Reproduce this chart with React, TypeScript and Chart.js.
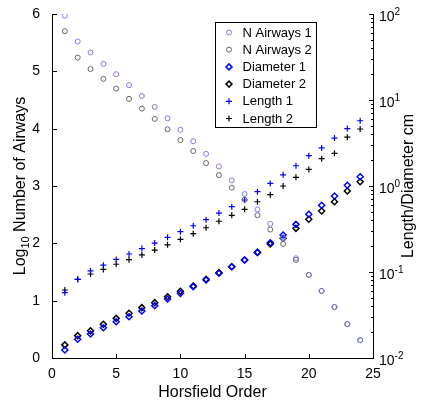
import React, { useEffect, useRef } from 'react';
import { Chart, registerables } from 'chart.js';

Chart.register(...registerables);

// ---- data ----
const orders = [1, 2, 3, 4, 5, 6, 7, 8, 9, 10, 11, 12, 13, 14, 15, 16, 17, 18, 19, 20, 21, 22, 23, 24];
const nAirways1 = [5.97, 5.52, 5.33, 5.13, 4.95, 4.76, 4.57, 4.38, 4.18, 3.98, 3.78, 3.56, 3.34, 3.10, 2.86, 2.59, 2.34, 2.09, 1.74, 1.45, 1.17, 0.89, 0.59, 0.31];
const nAirways2 = [5.70, 5.24, 5.04, 4.87, 4.70, 4.52, 4.35, 4.17, 3.99, 3.80, 3.61, 3.40, 3.19, 2.97, 2.76, 2.49, 2.24, 1.99, 1.71, 1.45, 1.17, 0.89, 0.59, 0.31];
const diameter1 = [0.0124, 0.0165, 0.0190, 0.0225, 0.0264, 0.0302, 0.0352, 0.0406, 0.0485, 0.0565, 0.0675, 0.0807, 0.0966, 0.115, 0.138, 0.169, 0.219, 0.269, 0.358, 0.469, 0.596, 0.766, 1.02, 1.28];
const diameter2 = [0.0142, 0.0182, 0.0207, 0.0247, 0.0289, 0.0331, 0.0385, 0.0440, 0.0516, 0.0597, 0.0687, 0.0822, 0.0982, 0.115, 0.138, 0.169, 0.212, 0.247, 0.322, 0.410, 0.512, 0.656, 0.875, 1.12];
const length1 = [0.0575, 0.0822, 0.103, 0.120, 0.140, 0.162, 0.187, 0.217, 0.253, 0.294, 0.345, 0.406, 0.485, 0.575, 0.687, 0.859, 1.07, 1.35, 1.72, 2.25, 2.77, 3.61, 4.65, 5.74];
const length2 = [0.0618, 0.0822, 0.0948, 0.107, 0.123, 0.139, 0.158, 0.180, 0.207, 0.240, 0.279, 0.327, 0.389, 0.456, 0.536, 0.656, 0.792, 1.00, 1.26, 1.56, 2.08, 2.40, 3.70, 4.60];

const seriesLabels = ['N Airways 1', 'N Airways 2', 'Diameter 1', 'Diameter 2', 'Length 1', 'Length 2'];
const xTicks = [0, 5, 10, 15, 20, 25];
const leftTicks = [0, 1, 2, 3, 4, 5, 6];
const rightExponents = [-2, -1, 0, 1, 2];
const xTitle = 'Horsfield Order';
const leftTitle = ['Log', '10', ' Number of Airways'];
const rightTitle = 'Length/Diameter cm';

const FONT = '"Liberation Sans", Arial, Helvetica, sans-serif';

const styles = [
  { shape: 'circle', color: '#7b7bf2', width: 1 },
  { shape: 'circle', color: '#666666', width: 1 },
  { shape: 'diamond', color: '#0000ff', width: 1.5 },
  { shape: 'diamond', color: '#000000', width: 1.5 },
  { shape: 'plus', color: '#0000ff', width: 1.2 },
  { shape: 'plus', color: '#000000', width: 1.2 },
];

function drawMarker(ctx: CanvasRenderingContext2D, shape: string, x: number, y: number, color: string, width: number) {
  ctx.save();
  ctx.strokeStyle = color;
  ctx.lineWidth = width;
  ctx.beginPath();
  if (shape === 'circle') {
    ctx.arc(x, y, 2.5, 0, Math.PI * 2);
  } else if (shape === 'diamond') {
    ctx.moveTo(x, y - 3);
    ctx.lineTo(x + 3, y);
    ctx.lineTo(x, y + 3);
    ctx.lineTo(x - 3, y);
    ctx.closePath();
  } else {
    ctx.moveTo(x - 3, y);
    ctx.lineTo(x + 3, y);
    ctx.moveTo(x, y - 3);
    ctx.lineTo(x, y + 3);
  }
  ctx.stroke();
  ctx.restore();
}

const decor = {
  id: 'decor',
  afterDraw(chart: any) {
    const ctx: CanvasRenderingContext2D = chart.ctx;
    const { left, right, top, bottom } = chart.chartArea;
    const xs = chart.scales.x;
    const ys = chart.scales.y;
    const y1 = chart.scales.y1;
    ctx.save();
    ctx.strokeStyle = '#000';
    ctx.lineWidth = 1;
    // axis lines
    ctx.beginPath();
    ctx.moveTo(left + 0.5, top);
    ctx.lineTo(left + 0.5, bottom + 0.5);
    ctx.lineTo(right + 0.5, bottom + 0.5);
    ctx.lineTo(right + 0.5, top);
    ctx.stroke();
    // ticks
    ctx.beginPath();
    xTicks.forEach((v) => {
      const px = Math.round(xs.getPixelForValue(v)) + 0.5;
      ctx.moveTo(px, bottom);
      ctx.lineTo(px, bottom - 4);
    });
    leftTicks.forEach((v) => {
      const py = Math.round(ys.getPixelForValue(v)) + 0.5;
      ctx.moveTo(left, py);
      ctx.lineTo(left + 5, py);
    });
    rightExponents.forEach((e, i) => {
      const base = Math.pow(10, e);
      const py = Math.round(y1.getPixelForValue(base)) + 0.5;
      ctx.moveTo(right + 1, py);
      ctx.lineTo(right - 4, py);
      if (i < rightExponents.length - 1) {
        for (let m = 2; m <= 9; m++) {
          const pm = Math.round(y1.getPixelForValue(base * m)) + 0.5;
          ctx.moveTo(right + 1, pm);
          ctx.lineTo(right - 2, pm);
        }
      }
    });
    ctx.stroke();

    // right tick labels 10^e
    ctx.fillStyle = '#000';
    ctx.textAlign = 'left';
    ctx.textBaseline = 'alphabetic';
    rightExponents.forEach((e) => {
      const py = y1.getPixelForValue(Math.pow(10, e));
      ctx.font = `14px ${FONT}`;
      ctx.fillText('10', right + 6, py + 7);
      const w = ctx.measureText('10').width;
      ctx.font = `10px ${FONT}`;
      ctx.fillText(e < 0 ? '-' + Math.abs(e) : String(e), right + 6 + w, py + 1);
    });

    // left title with subscript
    ctx.save();
    ctx.translate(21, (top + bottom) / 2);
    ctx.rotate(-Math.PI / 2);
    ctx.textBaseline = 'middle';
    ctx.font = `16px ${FONT}`;
    const w0 = ctx.measureText(leftTitle[0]).width;
    const w2 = ctx.measureText(leftTitle[2]).width;
    ctx.font = `11px ${FONT}`;
    const w1 = ctx.measureText(leftTitle[1]).width;
    let sx = -(w0 + w1 + w2) / 2;
    ctx.font = `16px ${FONT}`;
    ctx.fillText(leftTitle[0], sx, 0);
    sx += w0;
    ctx.font = `11px ${FONT}`;
    ctx.fillText(leftTitle[1], sx, 5);
    sx += w1;
    ctx.font = `16px ${FONT}`;
    ctx.fillText(leftTitle[2], sx, 0);
    ctx.restore();

    // right title (reads bottom to top)
    ctx.save();
    ctx.translate(right + 36, (top + bottom) / 2);
    ctx.rotate(-Math.PI / 2);
    ctx.textBaseline = 'middle';
    ctx.textAlign = 'center';
    ctx.font = `16px ${FONT}`;
    ctx.fillText(rightTitle, 0, 0);
    ctx.restore();

    // legend
    const bx = left + 163.5;
    const by = top + 8.5;
    const bw = 101;
    const bh = 105;
    ctx.fillStyle = '#fff';
    ctx.fillRect(bx, by, bw, bh);
    ctx.strokeStyle = '#000';
    ctx.lineWidth = 1;
    ctx.strokeRect(bx, by, bw, bh);
    ctx.font = `13px ${FONT}`;
    ctx.fillStyle = '#000';
    ctx.textBaseline = 'middle';
    ctx.textAlign = 'left';
    seriesLabels.forEach((lab, i) => {
      const ry = by + 10 + i * 17.2;
      const st = styles[i];
      drawMarker(ctx, st.shape, bx + 13.5, ry, st.color, st.width);
      ctx.fillStyle = '#000';
      ctx.fillText(lab, bx + 27, ry + 0.5);
    });
    ctx.restore();
  },
};

export default function App() {
  const ref = useRef<HTMLCanvasElement | null>(null);
  useEffect(() => {
    if (!ref.current) return;
    const mk = (vals: number[]) => orders.map((x, i) => ({ x, y: vals[i] }));
    const pointStyleOf = (s: string) => (s === 'circle' ? 'circle' : s === 'diamond' ? 'rectRot' : 'cross');
    const seriesValues = [nAirways1, nAirways2, diameter1, diameter2, length1, length2];
    const datasets = seriesValues.map((vals, i) => ({
      label: seriesLabels[i],
      data: mk(vals),
      yAxisID: i < 2 ? 'y' : 'y1',
      showLine: false,
      pointStyle: pointStyleOf(styles[i].shape),
      pointRadius: styles[i].shape === 'circle' ? 2.5 : 3,
      pointBorderWidth: styles[i].width,
      pointBorderColor: styles[i].color,
      pointBackgroundColor: 'rgba(0,0,0,0)',
      borderColor: styles[i].color,
      backgroundColor: 'rgba(0,0,0,0)',
    }));
    const chart = new Chart(ref.current, {
      type: 'scatter',
      data: { datasets },
      plugins: [decor],
      options: {
        animation: false,
        responsive: false,
        devicePixelRatio: 1,
        layout: { padding: { top: 14, left: 0, right: 0, bottom: 0 } },
        plugins: { legend: { display: false }, tooltip: { enabled: false } },
        scales: {
          x: {
            type: 'linear',
            position: 'bottom',
            min: 0,
            max: 25,
            afterBuildTicks: (s: any) => { s.ticks = xTicks.map((v) => ({ value: v })); },
            ticks: { color: '#000', font: { family: FONT, size: 14 }, padding: 0, maxRotation: 0 },
            grid: { display: false },
            border: { display: false },
            title: { display: true, text: xTitle, color: '#000', font: { family: FONT, size: 16 }, padding: { top: 0, bottom: 4 } },
            afterFit: (s: any) => { s.height = 48; },
          },
          y: {
            type: 'linear',
            position: 'left',
            min: 0,
            max: 6,
            afterBuildTicks: (s: any) => { s.ticks = leftTicks.map((v) => ({ value: v })); },
            ticks: { color: '#000', font: { family: FONT, size: 14 }, padding: 4 },
            grid: { display: false },
            border: { display: false },
            afterFit: (s: any) => { s.width = 52; },
          },
          y1: {
            type: 'logarithmic',
            position: 'right',
            min: 0.01,
            max: 100,
            ticks: { display: false },
            grid: { display: false },
            border: { display: false },
            afterFit: (s: any) => { s.width = 57; },
          },
        },
      } as any,
    });
    return () => chart.destroy();
  }, []);
  return (
    <div style={{ position: 'absolute', left: 0, top: 0, width: 430, height: 406, background: '#fff' }}>
      <canvas ref={ref} width={430} height={406} style={{ display: 'block' }} />
    </div>
  );
}
